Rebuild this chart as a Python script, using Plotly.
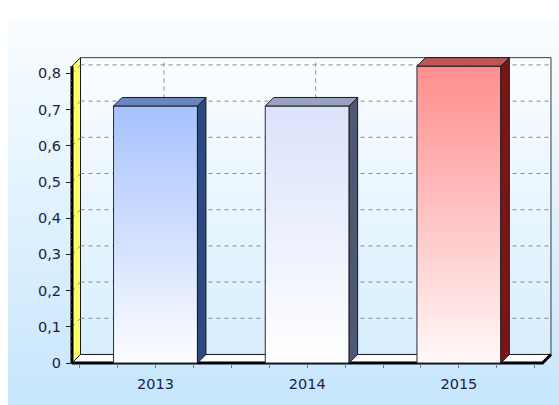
import base64
import plotly.graph_objects as go

# ---- data ----
categories = ["2013", "2014", "2015"]
values = [0.71, 0.71, 0.82]
y_ticks = [0, 0.1, 0.2, 0.3, 0.4, 0.5, 0.6, 0.7, 0.8]
y_tick_labels = ["0" if v == 0 else f"{v:.1f}".replace(".", ",") for v in y_ticks]

# ---- bar styling ----
front_top = ["#a6c2fd", "#dbe3fb", "#ff8e8e"]
front_bottom = ["#fdfdff", "#ffffff", "#fff8f8"]
side_colors = ["#2d4a80", "#4f5872", "#7a1616"]
top_colors = ["#6a86c0", "#99a3be", "#c05454"]

# ---- 3D box geometry (data units) ----
BOX_TOP = 0.82
DEPTH_X = 0.056
DEPTH_Y = 0.0235
BAR_W = 0.553
X_LEFT = -0.5504
X_RIGHT = 2.551

FONT = dict(family="DejaVu Sans", size=14.5, color="#1c1c48")
OUTLINE = "#1a1a1a"

fig = go.Figure()


def poly(xs, ys, line_color=OUTLINE, width=1, fill=None, gradient=None, dash=None):
    xs = list(xs) + [xs[0]]
    ys = list(ys) + [ys[0]]
    kw = dict(x=xs, y=ys, mode="lines", hoverinfo="skip", showlegend=False,
              line=dict(color=line_color, width=width, dash=dash))
    if fill is not None or gradient is not None:
        kw["fill"] = "toself"
        if fill is not None:
            kw["fillcolor"] = fill
        if gradient is not None:
            kw["fillgradient"] = gradient
    fig.add_trace(go.Scatter(**kw))


def path(xs, ys, color, width=1, dash=None):
    fig.add_trace(go.Scatter(x=xs, y=ys, mode="lines", hoverinfo="skip", showlegend=False,
                             line=dict(color=color, width=width, dash=dash)))


# back wall
bx0, bx1 = X_LEFT + DEPTH_X, X_RIGHT + DEPTH_X
by0, by1 = DEPTH_Y, BOX_TOP + DEPTH_Y
poly([bx0, bx1, bx1, bx0], [by0, by0, by1, by1], line_color="#3a3a3a",
     gradient=dict(type="vertical", start=by0, stop=by1,
                   colorscale=[[0, "#d7eefd"], [1, "#fbfdff"]]))

# dashed grid on the back wall
gx, gy = [], []
for v in y_ticks[1:]:
    gx += [bx0, bx1, None]
    gy += [v + DEPTH_Y, v + DEPTH_Y, None]
for i in range(len(categories)):
    gx += [i + DEPTH_X, i + DEPTH_X, None]
    gy += [by0, by1, None]
path(gx, gy, "#8a8a8a", 1, "4px,4px")

# floor
poly([X_LEFT, X_RIGHT, bx1, bx0], [0, 0, by0, by0], line_color=OUTLINE, fill="#ffffff")
path([bx0, bx1], [by0, by0], "#202020", 1, "4px,3px")

# left wall
poly([X_LEFT, X_LEFT, bx0, bx0], [0, BOX_TOP, by1, by0], line_color=OUTLINE, fill="#ffff66")
wx, wy = [], []
for v in y_ticks[1:]:
    wx += [X_LEFT, bx0, None]
    wy += [v, v + DEPTH_Y, None]
path(wx, wy, "#8a8a8a", 1, "4px,4px")

# front edges of the box
path([X_LEFT, X_RIGHT, bx1], [0, 0, by0], "#000000", 3)
path([X_LEFT, X_LEFT], [0, BOX_TOP], "#000000", 3)

# bars
for i, v in enumerate(values):
    xl, xr = i - BAR_W / 2, i + BAR_W / 2
    poly([xl, xr, xr, xl], [0, 0, v, v], line_color="#2a2a3a",
         gradient=dict(type="vertical", start=0, stop=v,
                       colorscale=[[0, front_bottom[i]], [1, front_top[i]]]))
    poly([xr, xr + DEPTH_X, xr + DEPTH_X, xr], [0, DEPTH_Y, v + DEPTH_Y, v],
         line_color=OUTLINE, fill=side_colors[i])
    poly([xl, xr, xr + DEPTH_X, xl + DEPTH_X], [v, v, v + DEPTH_Y, v + DEPTH_Y],
         line_color=OUTLINE, fill=top_colors[i])

# page background gradient
svg = ('<svg xmlns="http://www.w3.org/2000/svg" width="551" height="385" '
       'preserveAspectRatio="none"><defs><linearGradient id="g" x1="0" y1="0" x2="0" y2="1">'
       '<stop offset="0" stop-color="#fafdff"/><stop offset="1" stop-color="#c6e6fc"/>'
       '</linearGradient></defs><rect width="551" height="385" fill="url(#g)"/></svg>')
bg_src = "data:image/svg+xml;base64," + base64.b64encode(svg.encode()).decode()

W, H = 559, 405
L, R, T, B = 66, 556, 52, 368
PX_X = 151.7
PX_Y = 362.0
X0_PX = 155.5
Y0_PX = 363.0

xr = [(L - X0_PX) / PX_X, (R - X0_PX) / PX_X]
yr = [-(B - Y0_PX) / PX_Y, (Y0_PX - T) / PX_Y]
pw, ph = R - L, B - T

minor_y = [round(k * 0.02, 2) for k in range(42) if k % 5 != 0]

fig.update_layout(
    width=W, height=H,
    margin=dict(l=L, r=W - R, t=T, b=H - B, pad=0),
    paper_bgcolor="#ffffff",
    plot_bgcolor="rgba(0,0,0,0)",
    showlegend=False,
    hovermode=False,
    images=[dict(source=bg_src, xref="paper", yref="paper",
                 x=(8 - L) / pw, y=(B - 20) / ph, sizex=551 / pw, sizey=385 / ph,
                 xanchor="left", yanchor="top", sizing="stretch", layer="below")],
    xaxis=dict(range=xr, showgrid=False, zeroline=False, showline=False,
               anchor="free", position=(B - Y0_PX) / ph,
               tickmode="array", tickvals=list(range(len(categories))), ticktext=categories,
               ticks="outside", ticklen=4, tickcolor="#7a7a7a", tickwidth=1,
               ticklabelstandoff=4, tickfont=FONT,
               minor=dict(tickmode="linear", tick0=-0.5, dtick=0.25, ticks="outside",
                          ticklen=4, tickcolor="#7a7a7a", tickwidth=1)),
    yaxis=dict(range=yr, showgrid=False, zeroline=False, showline=False,
               anchor="free", position=(72 - L) / pw,
               tickmode="array", tickvals=y_ticks, ticktext=y_tick_labels,
               ticks="outside", ticklen=6, tickcolor="#222222", tickwidth=1,
               ticklabelstandoff=2, tickfont=FONT,
               minor=dict(tickmode="array", tickvals=minor_y, ticks="outside",
                          ticklen=2, tickcolor="#555555", tickwidth=1)),
)

fig.write_html("out.html", config={"displayModeBar": False})
